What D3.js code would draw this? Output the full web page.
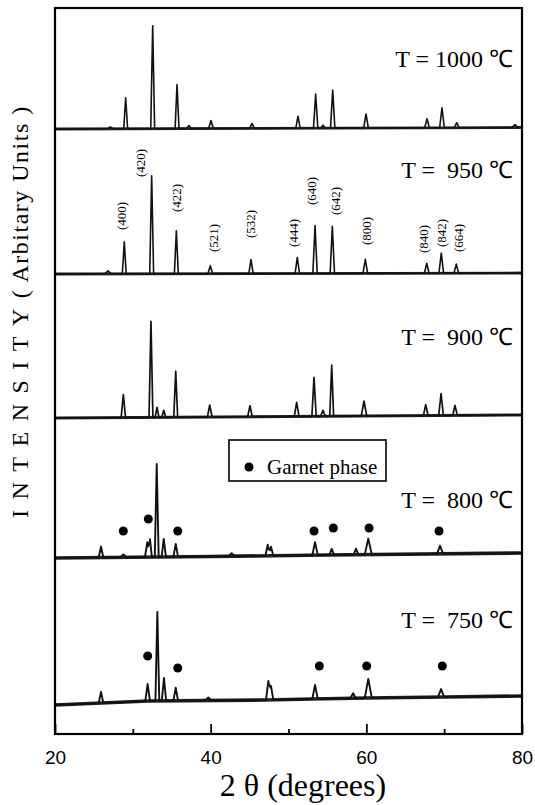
<!DOCTYPE html>
<html><head><meta charset="utf-8">
<script src="https://cdn.jsdelivr.net/npm/d3@7"></script>
<style>body{margin:0;background:#fff}</style>
</head><body>
<svg id="c" width="535" height="805" xmlns="http://www.w3.org/2000/svg"></svg>
<script>
// ---------- DATA ----------
const temperatures = ["1000", "950", "900", "800", "750"];
const tempLabels = ["T = 1000 \u2103", "T =  950 \u2103", "T =  900 \u2103", "T =  800 \u2103", "T =  750 \u2103"];
// vertical stacking offset of each pattern (a.u.)
const offsets = [606, 461, 317, 176, 29];
// baseline drift of each pattern: [2theta, a.u.]
const baseline1000 = [[20, -1], [80, 0.5]];
const baseline950 = [[20, -1], [80, 0]];
const baseline900 = [[20, -1], [80, 2]];
const baseline800 = [[20, 0], [40, 1.5], [55, 3], [80, 5]];
const baseline750 = [[20, 0], [26, 2], [32, 4], [47, 5], [53, 6], [60, 7], [70, 8], [80, 9]];
// peaks: [2theta, height above baseline (a.u.), half width (deg)]
const peaks1000 = [[27.1, 2, 0.4], [29.08, 31, 0.25], [32.55, 103, 0.25], [35.68, 44, 0.25], [37.2, 3, 0.3], [40.04, 8, 0.3],
  [45.31, 5, 0.3], [51.22, 12, 0.28], [53.49, 34, 0.28], [54.43, 3, 0.3], [55.68, 38, 0.28], [59.96, 14, 0.3],
  [67.80, 9, 0.3], [69.72, 20, 0.3], [71.61, 5, 0.3], [79.1, 3, 0.4]];
const peaks950 = [[26.81, 3, 0.4], [28.90, 32, 0.25], [32.42, 98, 0.25], [35.59, 43, 0.25], [39.95, 8, 0.3], [45.18, 14, 0.28],
  [51.13, 16, 0.28], [53.41, 48, 0.28], [55.63, 47, 0.28], [59.87, 14, 0.3], [67.76, 10, 0.3], [69.63, 20, 0.3], [71.56, 9, 0.3]];
const peaks900 = [[28.78, 23, 0.28], [32.33, 96, 0.25], [33.11, 10, 0.25], [33.97, 7, 0.25], [35.51, 46, 0.25], [39.88, 12, 0.3],
  [45.05, 11, 0.3], [51.05, 14, 0.3], [53.28, 39, 0.28], [54.43, 6, 0.3], [55.55, 51, 0.25], [59.70, 15, 0.35],
  [67.63, 11, 0.3], [69.60, 22, 0.3], [71.39, 10, 0.3]];
const peaks800 = [[25.91, 11, 0.3], [28.78, 3, 0.4], [31.86, 15, 0.3], [32.2, 18, 0.25], [33.07, 93, 0.25], [33.97, 18, 0.28],
  [35.51, 13, 0.3], [42.7, 3, 0.4], [47.33, 11, 0.3], [47.75, 9, 0.3], [53.41, 13, 0.35], [55.55, 6, 0.3],
  [58.67, 6, 0.3], [60.25, 16, 0.45], [69.47, 8, 0.4]];
const peaks750 = [[25.91, 11, 0.3], [31.9, 17, 0.3], [33.15, 89, 0.25], [34.0, 23, 0.28], [35.51, 13, 0.3], [39.7, 3, 0.4],
  [47.41, 19, 0.3], [47.75, 14, 0.3], [53.41, 14, 0.35], [58.3, 5, 0.35], [60.25, 19, 0.45], [69.6, 8, 0.4]];
// Miller indices marked on the 950 C pattern
const hklLabels = ["(400)", "(420)", "(422)", "(521)", "(532)", "(444)", "(640)", "(642)", "(800)", "(840)", "(842)", "(664)"];
const hklPos = [28.57, 30.92, 35.64, 40.34, 45.05, 50.58, 52.89, 55.98, 60.05, 67.32, 69.68, 71.82];
const hklLevel = [43, 96, 61, 21, 35, 26, 68, 58, 28, 20, 26, 21];
// garnet phase markers: [2theta, level above offset]
const dots800 = [[28.78, 27], [31.99, 39], [35.77, 27], [53.28, 27], [55.76, 30], [60.35, 30], [69.34, 27]];
const dots750 = [[31.91, 49], [35.77, 37], [53.96, 39], [60.05, 39], [69.76, 39]];
const xMajorTicks = [20, 40, 60, 80];
const xMinorTicks = [30, 50, 70];

// ---------- LAYOUT ----------
const svg = d3.select("#c");
const L = 55, R = 522, T = 8, B = 734;
const x = d3.scaleLinear().domain([20, 80]).range([L, R]);
const y = d3.scaleLinear().domain([0, B - T]).range([B, T]);
const serif = "'Liberation Serif','Times New Roman',serif";
const sans = "'Liberation Sans',Arial,sans-serif";

const patterns = [
  {peaks: peaks1000, base: baseline1000, sw: 1.6, band: 2.8},
  {peaks: peaks950, base: baseline950, sw: 1.6, band: 2.8},
  {peaks: peaks900, base: baseline900, sw: 1.7, band: 3.0},
  {peaks: peaks800, base: baseline800, sw: 1.9, band: 3.6},
  {peaks: peaks750, base: baseline750, sw: 1.9, band: 3.6}
];

function baseAt(base, t) {
  const s = d3.scaleLinear().domain(base.map(d => d[0])).range(base.map(d => d[1])).clamp(true);
  return s(t);
}
function profile(p) {
  const verts = [20, 80];
  p.peaks.forEach(([c, h, w]) => { verts.push(c - w, c, c + w); });
  p.base.forEach(b => verts.push(b[0]));
  const xs = Array.from(new Set(verts.filter(v => v >= 20 && v <= 80))).sort((a, b) => a - b);
  return xs.map(t => {
    let v = baseAt(p.base, t);
    p.peaks.forEach(([c, h, w]) => { const d = Math.abs(t - c); if (d < w) v += h * (1 - d / w); });
    return [t, v];
  });
}

const line = d3.line().x(d => x(d[0])).y(d => y(d[1]));
patterns.forEach((p, i) => {
  // background noise band along the baseline
  const basePts = p.base.map(([t, v]) => [t, v + offsets[i]]);
  svg.append("path").attr("d", line(basePts)).attr("fill", "none")
    .attr("stroke", "#222").attr("stroke-width", p.band);
  const pts = profile(p).map(([t, v]) => [t, v + offsets[i]]);
  svg.append("path").attr("d", line(pts)).attr("fill", "none")
    .attr("stroke", "#111").attr("stroke-width", p.sw).attr("stroke-linejoin", "round");
});

// frame
svg.append("rect").attr("x", L).attr("y", T).attr("width", R - L).attr("height", B - T)
  .attr("fill", "none").attr("stroke", "#000").attr("stroke-width", 2.2);

// axes
const ax = svg.append("g").attr("transform", `translate(0,${B})`)
  .call(d3.axisBottom(x).tickValues(xMajorTicks).tickSize(-10).tickPadding(17).tickFormat(d3.format("d")));
ax.select(".domain").remove();
ax.selectAll("line").attr("stroke-width", 1.8);
ax.selectAll("text").attr("font-family", sans).attr("font-size", 19).attr("fill", "#000");
const axm = svg.append("g").attr("transform", `translate(0,${B})`)
  .call(d3.axisBottom(x).tickValues(xMinorTicks).tickSize(-5).tickFormat(""));
axm.select(".domain").remove();
axm.selectAll("line").attr("stroke-width", 1.8);

// temperature labels
const tempY = [67, 178, 345, 508, 628];
tempLabels.forEach((t, i) => {
  svg.append("text").attr("x", 513).attr("y", tempY[i]).attr("text-anchor", "end")
    .attr("font-family", serif).attr("font-size", 24).style("white-space", "pre").text(t);
});

// hkl labels
hklLabels.forEach((lab, i) => {
  svg.append("text")
    .attr("transform", `translate(${x(hklPos[i])},${y(offsets[1] + hklLevel[i])}) rotate(-90)`)
    .attr("dy", "0.35em").attr("font-family", serif).attr("font-size", 13).text(lab);
});

// garnet markers
[[dots800, 3], [dots750, 4]].forEach(([ds, i]) => {
  svg.selectAll(null).data(ds).enter().append("circle")
    .attr("cx", d => x(d[0])).attr("cy", d => y(offsets[i] + d[1])).attr("r", 4.5).attr("fill", "#000");
});

// legend
svg.append("rect").attr("x", 229).attr("y", 440).attr("width", 157).attr("height", 41)
  .attr("fill", "#fff").attr("stroke", "#000").attr("stroke-width", 1.6);
svg.append("circle").attr("cx", 249).attr("cy", 467).attr("r", 4.5).attr("fill", "#000");
svg.append("text").attr("x", 267).attr("y", 474).attr("font-family", serif).attr("font-size", 21).text("Garnet phase");

// axis titles
svg.append("text").attr("x", 303).attr("y", 796).attr("text-anchor", "middle")
  .attr("font-family", serif).attr("font-size", 32).text("2 \u03b8 (degrees)");
const yl = svg.append("text").attr("transform", "translate(28,518) rotate(-90)")
  .attr("font-family", serif).attr("font-size", 24);
yl.append("tspan").attr("letter-spacing", 10.5).text("INTENSITY");
yl.append("tspan").attr("letter-spacing", 1.5).style("white-space", "pre").text("( Arbitary Units )");
</script>
</body></html>
